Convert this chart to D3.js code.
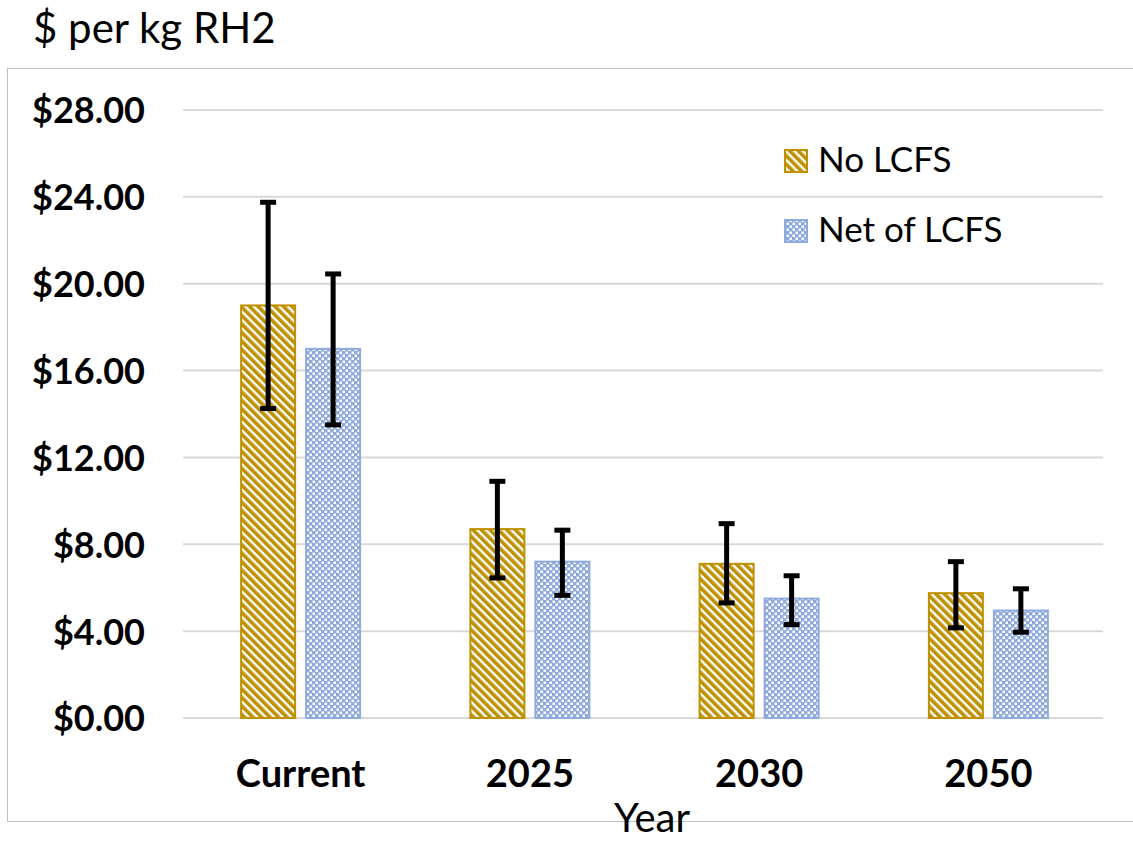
<!DOCTYPE html>
<html><head><meta charset="utf-8">
<script src="https://cdn.jsdelivr.net/npm/d3@7"></script>
<style>body{margin:0;background:#fff}svg{display:block}</style>
</head><body>
<svg id="c" width="1133" height="842"></svg>
<script>
const categories = ["Current", "2025", "2030", "2050"];
const seriesNames = ["No LCFS", "Net of LCFS"];
const noLcfs = [19.0, 8.7, 7.1, 5.75];
const netLcfs = [17.0, 7.2, 5.5, 4.95];
const noLcfsLow = [14.25, 6.45, 5.3, 4.15];
const noLcfsHigh = [23.75, 10.9, 8.95, 7.2];
const netLcfsLow = [13.5, 5.65, 4.3, 3.95];
const netLcfsHigh = [20.45, 8.65, 6.55, 5.95];
const yTicks = [0, 4, 8, 12, 16, 20, 24, 28];

const svg = d3.select("#c");
const font = "Lato, 'Open Sans', sans-serif";
const colors = ["#BF9000", "#8FAADC"];

const defs = svg.append("defs");
const p1 = defs.append("pattern").attr("id","diag").attr("patternUnits","userSpaceOnUse")
  .attr("width",6).attr("height",6).attr("patternTransform","rotate(-45)");
p1.append("rect").attr("width",6).attr("height",6).attr("fill","#fff");
p1.append("rect").attr("x",0).attr("width",3.6).attr("height",6).attr("fill",colors[0]);
const p2 = defs.append("pattern").attr("id","check").attr("patternUnits","userSpaceOnUse")
  .attr("width",6).attr("height",6);
p2.append("rect").attr("width",6).attr("height",6).attr("fill",colors[1]);
p2.append("rect").attr("x",0.5).attr("y",0.5).attr("width",2.5).attr("height",2.5).attr("fill","#fff");
p2.append("rect").attr("x",3.5).attr("y",3.5).attr("width",2.5).attr("height",2.5).attr("fill","#fff");
const fills = ["url(#diag)", "url(#check)"];

// frame
svg.append("rect").attr("x",7.5).attr("y",68.5).attr("width",1130).attr("height",753)
  .attr("fill","none").attr("stroke","#bfbfbf").attr("stroke-width",1);

const x0 = d3.scaleBand().domain(categories).range([186, 1103]).paddingInner(0).paddingOuter(0);
const y = d3.scaleLinear().domain([0, 28]).range([718, 110]);

// gridlines
svg.append("g").selectAll("line").data(yTicks).join("line")
  .attr("x1",183).attr("x2",1103).attr("y1",d=>y(d)).attr("y2",d=>y(d))
  .attr("stroke","#d9d9d9").attr("stroke-width",2);

// y axis labels
const yAxis = d3.axisLeft(y).tickValues(yTicks).tickSize(0).tickPadding(0)
  .tickFormat(d => "$" + d3.format(".2f")(d));
const ya = svg.append("g").attr("transform","translate(145,0)").call(yAxis);
ya.select(".domain").remove();
ya.selectAll("text").attr("font-family",font).attr("font-weight","bold").attr("font-size",36)
  .attr("fill","#000").attr("dy","0.36em");

// x axis labels
const xAxis = d3.axisBottom(x0).tickSize(0).tickPadding(0);
const xa = svg.append("g").attr("transform","translate(0,787)").call(xAxis);
xa.select(".domain").remove();
xa.selectAll("text").attr("font-family",font).attr("font-weight","bold").attr("font-size",38)
  .attr("fill","#000").attr("y",0).attr("dy","0");

// bars
const barW = 56, gap = 9;
const series = [
  {vals: noLcfs, lo: noLcfsLow, hi: noLcfsHigh},
  {vals: netLcfs, lo: netLcfsLow, hi: netLcfsHigh}
];
series.forEach((s, si) => {
  const off = si === 0 ? -(barW + gap/2) : gap/2;
  const g = svg.append("g");
  g.selectAll("rect").data(categories).join("rect")
    .attr("x", (c) => x0(c) + x0.bandwidth()/2 + off + 1)
    .attr("y", (c, i) => y(s.vals[i]))
    .attr("width", barW - 2)
    .attr("height", (c, i) => y(0) - y(s.vals[i]))
    .attr("fill", fills[si]).attr("stroke", colors[si]).attr("stroke-width", 2);
  const eg = svg.append("g").attr("stroke","#000").attr("stroke-width",5);
  categories.forEach((c, i) => {
    const cx = x0(c) + x0.bandwidth()/2 + off + barW/2;
    eg.append("line").attr("x1",cx).attr("x2",cx).attr("y1",y(s.hi[i])).attr("y2",y(s.lo[i]));
    eg.append("line").attr("x1",cx-8).attr("x2",cx+8).attr("y1",y(s.hi[i])).attr("y2",y(s.hi[i]));
    eg.append("line").attr("x1",cx-8).attr("x2",cx+8).attr("y1",y(s.lo[i])).attr("y2",y(s.lo[i]));
  });
});

// legend
const leg = svg.append("g");
seriesNames.forEach((n, i) => {
  const ly = 172 + i * 70;
  leg.append("rect").attr("x",785).attr("y",ly-22).attr("width",22).attr("height",22)
    .attr("fill",fills[i]).attr("stroke",colors[i]).attr("stroke-width",2);
  leg.append("text").attr("x",818).attr("y",ly).text(n)
    .attr("font-family",font).attr("font-size",35).attr("fill","#000");
});

// titles
svg.append("text").attr("x",33).attr("y",43).text("$ per kg RH2")
  .attr("font-family",font).attr("font-size",42).attr("fill","#000");
svg.append("text").attr("x",652).attr("y",832).attr("text-anchor","middle").text("Year")
  .attr("font-family",font).attr("font-size",40).attr("fill","#000");
</script>
</body></html>
